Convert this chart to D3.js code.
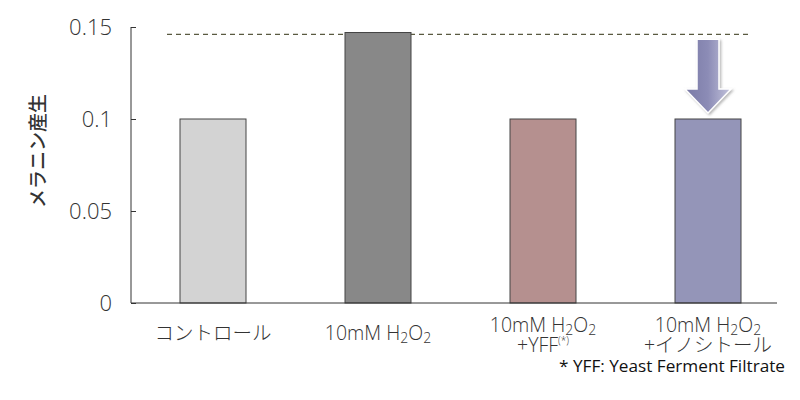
<!DOCTYPE html>
<html><head><meta charset="utf-8">
<script src="https://cdn.jsdelivr.net/npm/d3@7"></script>
<style>body{margin:0;background:#fff}svg{display:block}text{font-family:"Open Sans","Noto Sans CJK JP",sans-serif;font-weight:300}</style>
</head><body><svg id="c" width="800" height="400"></svg>
<script>
const categories = ["control", "h2o2", "yff", "inositol"];
const values = [0.1, 0.147, 0.1, 0.1];
const colors = ["#d3d3d3", "#888888", "#b5908f", "#9495b8"];
const yTicks = [0, 0.05, 0.1, 0.15];
const yTickLabels = ["0", "0.05", "0.1", "0.15"];
const refValue = 0.146;
const yTitle = "メラニン産生";
const footnote = "* YFF: Yeast Ferment Filtrate";
// label lines: arrays of segments [text, kind]
const labels = [
  [[["コントロール",""]]],
  [[["10mM  H",""],["2","sub"],["O",""],["2","sub"]]],
  [[["10mM H",""],["2","sub"],["O",""],["2","sub"]],[["+YFF",""],["(*)","sup"]]],
  [[["10mM H",""],["2","sub"],["O",""],["2","sub"]],[["+イノシトール",""]]]
];

(function(){
const svg = d3.select("#c");
const y = d3.scaleLinear().domain([0, 0.15]).range([303, 27]);
const x = d3.scaleBand().domain(categories).range([130.5, 790.5]).paddingInner(0.6).paddingOuter(0.3);
const axisLeft = 131, axisRight = 777;

// dashed reference line
svg.append("line").attr("x1", 167).attr("x2", 748)
  .attr("y1", y(refValue)).attr("y2", y(refValue))
  .attr("stroke", "#5a5a40").attr("stroke-width", 1.3).attr("stroke-dasharray", "5,4");

// bars
svg.selectAll("rect.bar").data(categories).enter().append("rect")
  .attr("class", "bar")
  .attr("x", d => x(d)).attr("width", x.bandwidth())
  .attr("y", (d, i) => y(values[i])).attr("height", (d, i) => y(0) - y(values[i]))
  .attr("fill", (d, i) => colors[i]).attr("stroke", "#444").attr("stroke-width", 1);

// y axis
const yAxis = d3.axisRight(y).tickValues(yTicks).tickSize(5).tickFormat("");
const ga = svg.append("g").attr("transform", `translate(${axisLeft},0)`).call(yAxis);
ga.select(".domain").remove();
ga.selectAll(".tick line").attr("stroke", "#333");
svg.append("line").attr("x1", axisLeft).attr("x2", axisLeft).attr("y1", y(0.15)).attr("y2", y(0)).attr("stroke", "#333");
svg.append("line").attr("x1", axisLeft).attr("x2", axisRight).attr("y1", y(0)).attr("y2", y(0)).attr("stroke", "#333");

svg.selectAll("text.yt").data(yTicks).enter().append("text")
  .attr("class", "yt").attr("x", 112).attr("y", d => y(d)).attr("dy", "0.36em")
  .attr("text-anchor", "end").attr("font-size", 22).attr("fill", "#333")
  .text((d, i) => yTickLabels[i]);

svg.append("text").attr("transform", "translate(45,151) rotate(-90)")
  .attr("text-anchor", "middle").attr("font-size", 19).attr("fill", "#333")
  .style("font-family", '"Noto Sans CJK JP",sans-serif').style("font-weight", 500)
  .text(yTitle);

// category labels (one text element per category, lines as tspans)
labels.forEach((lines, i) => {
  const cx = x(categories[i]) + x.bandwidth() / 2;
  const n = lines.length;
  const t = svg.append("text").attr("x", cx).attr("y", n === 1 ? 340 : 332)
    .attr("text-anchor", "middle").attr("font-size", 19.5).attr("fill", "#333");
  lines.forEach((segs, j) => {
    let prev = 0;
    segs.forEach(([s, kind], k) => {
      const target = kind === "sub" ? 3 : kind === "sup" ? -8 : 0;
      const ts = t.append("tspan").text(s);
      if (k === 0 && j > 0) {
        // new line: move back to center and down
        ts.attr("x", cx).attr("dy", 20 - lastOffset + target);
      } else {
        ts.attr("dy", target - prev);
      }
      if (kind === "sub") ts.attr("font-size", 14);
      else if (kind === "sup") ts.attr("font-size", 10);
      prev = target;
      lastOffset = target;
    });
  });
});
var lastOffset;

svg.append("text").attr("x", 785).attr("y", 372).attr("text-anchor", "end")
  .attr("font-size", 17).attr("fill", "#111").style("font-weight", 400)
  .attr("textLength", 226).attr("lengthAdjust", "spacingAndGlyphs").text(footnote);

// arrow
const defs = svg.append("defs");
const g = defs.append("linearGradient").attr("id", "ag").attr("x1", "0").attr("x2", "1").attr("y1", "0").attr("y2", "0");
g.append("stop").attr("offset", "0").attr("stop-color", "#7a7aa6");
g.append("stop").attr("offset", "0.5").attr("stop-color", "#8c8cb6");
g.append("stop").attr("offset", "1").attr("stop-color", "#c4c4dc");
const f = defs.append("filter").attr("id", "sh").attr("x", "-30%").attr("y", "-30%").attr("width", "160%").attr("height", "160%");
f.append("feDropShadow").attr("dx", 1.5).attr("dy", 1.5).attr("stdDeviation", 1.2).attr("flood-color", "#888").attr("flood-opacity", 0.6);
const ax = x("inositol") + x.bandwidth() / 2;
const aTop = y(refValue) + 5, aTip = y(0.1) - 6;
const sw = 11, hw = 23, hh = 24;
svg.append("path")
  .attr("d", `M${ax - sw},${aTop} L${ax + sw},${aTop} L${ax + sw},${aTip - hh} L${ax + hw},${aTip - hh} L${ax},${aTip} L${ax - hw},${aTip - hh} L${ax - sw},${aTip - hh} Z`)
  .attr("fill", "url(#ag)").attr("stroke", "#fff").attr("stroke-width", 1.5).attr("filter", "url(#sh)");
})();
</script></body></html>
